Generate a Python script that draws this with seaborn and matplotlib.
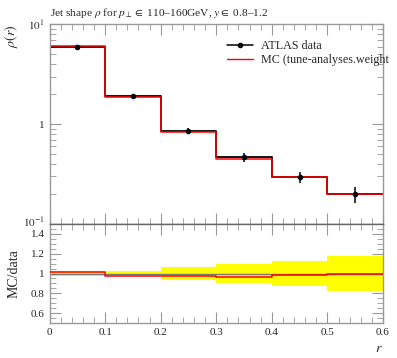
import numpy as np
import pandas as pd
import matplotlib
matplotlib.use("Agg")
import matplotlib.pyplot as plt
import matplotlib.transforms as mtransforms
import seaborn as sns
from matplotlib.ticker import MultipleLocator, LogLocator, FixedLocator, NullFormatter

# bin edges in r and values
edges = [0.0, 0.1, 0.2, 0.3, 0.4, 0.5, 0.6]
data_vals = [5.96, 1.91, 0.861, 0.467, 0.296, 0.200]
data_errs = [0.18, 0.057, 0.055, 0.044, 0.038, 0.036]
mc_vals = [6.08, 1.87, 0.835, 0.452, 0.293, 0.200]
ratio_band = [0.03, 0.03, 0.065, 0.095, 0.13, 0.18]

centers = [(a + b) / 2 for a, b in zip(edges[:-1], edges[1:])]
steps = pd.DataFrame({"r": edges,
                      "data": data_vals + [data_vals[-1]],
                      "mc": mc_vals + [mc_vals[-1]]})
ratio = [m / d for m, d in zip(mc_vals, data_vals)]
steps["ratio"] = ratio + [ratio[-1]]
steps["band"] = ratio_band + [ratio_band[-1]]

sns.set_style("ticks")
plt.rcParams["font.family"] = ["Liberation Serif", "DejaVu Serif"]
plt.rcParams["mathtext.fontset"] = "stix"

fig = plt.figure(figsize=(3.97, 3.58), dpi=100)
ax = fig.add_axes([0.1247, 0.374, 0.840, 0.558])
rax = fig.add_axes([0.1247, 0.098, 0.840, 0.276], sharex=ax)

# main panel
sns.lineplot(data=steps, x="r", y="data", drawstyle="steps-post", color="black",
             lw=1.3, ax=ax, label="_nolegend_")
sns.lineplot(data=steps, x="r", y="mc", drawstyle="steps-post", color="red",
             lw=1.1, ax=ax, label="_nolegend_")
ax.errorbar(centers, data_vals, yerr=data_errs, fmt="o", color="black", ms=3,
            elinewidth=1.1, capsize=0, zorder=5)
ax.plot([], [], color="black", marker="o", ms=3, lw=1.1, label="ATLAS data")
ax.plot([], [], color="red", lw=1.0, label="MC (tune-analyses.weight")
ax.set_yscale("log")
ax.set_ylim(0.1, 10)
ax.set_xlim(0, 0.6)
ax.yaxis.set_major_locator(FixedLocator([0.1, 1, 10]))
ax.set_yticklabels([r"$10^{-1}$", "1", r"$10^{1}$"])
ax.yaxis.set_minor_locator(LogLocator(base=10, subs=np.arange(2, 10)))
ax.yaxis.set_minor_formatter(NullFormatter())
ax.tick_params(labelbottom=False)
ax.set_xlabel("")
ax.set_ylabel(r"$\rho(r)$", loc="top", fontsize=10)
ax.yaxis.set_label_coords(-0.088, 1.0)
ax.set_title(r"Jet shape $\rho$ for $p_\perp \in$ 110–160GeV, $y \in$ 0.8–1.2",
             loc="left", fontsize=8.2, pad=6)
leg = ax.legend(loc="upper left", bbox_to_anchor=(0.532, 0.92), frameon=False,
                fontsize=8.7, handlelength=2.15, handletextpad=0.66,
                labelspacing=0.12, borderpad=0, borderaxespad=0)

# ratio panel
rax.fill_between(steps["r"], 1 - steps["band"], 1 + steps["band"], step="post",
                 color="#ffff00", lw=0, zorder=1)
rax.axhline(1, color="#777777", lw=1.0, zorder=2)
sns.lineplot(data=steps, x="r", y="ratio", drawstyle="steps-post", color="red",
             lw=1.1, ax=rax, zorder=3)
rax.set_ylim(0.5, 1.5)
rax.set_xlim(0, 0.6)
rax.yaxis.set_major_locator(FixedLocator([0.6, 0.8, 1.0, 1.2, 1.4]))
rax.set_yticklabels(["0.6", "0.8", "1", "1.2", "1.4"])
rax.yaxis.set_minor_locator(MultipleLocator(0.05))
rax.xaxis.set_major_locator(MultipleLocator(0.1))
rax.xaxis.set_minor_locator(MultipleLocator(0.02))
rax.set_xticks(np.arange(0, 0.61, 0.1))
rax.set_xticklabels(["0", "0.1", "0.2", "0.3", "0.4", "0.5", "0.6"])
rax.set_ylabel("MC/data", fontsize=10)
rax.yaxis.set_label_coords(-0.088, 0.5)
rax.set_xlabel(r"$r$", loc="right", fontsize=10)

for a in (ax, rax):
    a.tick_params(which="both", direction="in", top=True, right=True,
                  color="#999999", labelsize=8)
    a.tick_params(which="major", length=8)
    a.tick_params(which="minor", length=4)
    for s in a.spines.values():
        s.set_color("#999999")
        s.set_linewidth(1.0)
ax.spines["bottom"].set_color("#666666")
rax.spines["top"].set_color("#666666")

# nudge the 10^-1 label up a touch so it clears the 1.4 label below
lab = ax.yaxis.get_major_ticks()[0].label1
lab.set_transform(lab.get_transform()
                  + mtransforms.ScaledTranslation(0, 2.5 / 72, fig.dpi_scale_trans))

fig.savefig("out.png", dpi=100)
